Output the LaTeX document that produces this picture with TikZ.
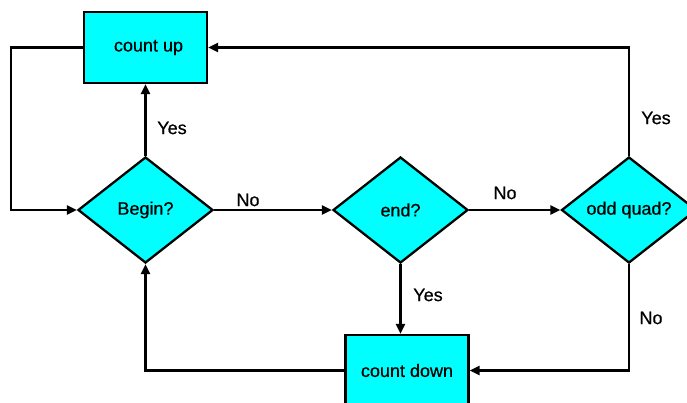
\documentclass[tikz,border=0pt]{standalone}
\usepackage{fontspec}
\setmainfont{Liberation Sans}
\newfontfamily\chartfont{Liberation Sans}[FakeBold=0.5]
\usetikzlibrary{shapes.geometric,arrows.meta}
\definecolor{boxcyan}{RGB}{0,255,255}
\begin{document}
\begin{tikzpicture}[x=1pt,y=-1pt,line width=2.3pt,
  font=\chartfont\fontsize{18}{21}\selectfont,
  boxnode/.style={draw=black,fill=boxcyan,rectangle,minimum width=123pt,minimum height=71pt,inner sep=0pt,line width=2.3pt},
  decision/.style={draw=black,fill=boxcyan,diamond,minimum width=135pt,minimum height=106pt,inner sep=0pt,line width=2.3pt},
  flow/.style={-{Triangle[length=10pt,width=9pt]},line width=2.3pt},
  lbl/.style={inner sep=0pt}]
\useasboundingbox (0,0) rectangle (687,403);

% process boxes and decisions
\node[boxnode] (up) at (145.5,47.5) {\hspace*{6pt}count up};
\node[boxnode] (down) at (407,370.5) {count down};
\node[decision] (begin) at (145.5,210) {Begin?};
\node[decision] (end) at (400.5,210) {end?};
\node[decision] (odd) at (629,210) {odd quad?};

% connectors
\draw[flow] (begin.north) -- (up.south);
\draw[flow] (up.west) -- ++(-72,0) |- (begin.west);
\draw[flow] (begin.east) -- (end.west);
\draw[flow] (end.east) -- (odd.west);
\draw[flow] (end.south) -- (end.south |- down.north);
\draw[flow] (odd.north) |- (up.east);
\draw[flow] (odd.south) |- (down.east);
\draw[flow] (down.west) -| (begin.south);

% branch labels
\node[lbl] (l1) at (172,128) {Yes};
\node[lbl] (l2) at (248,200) {No};
\node[lbl] (l3) at (505,193) {No};
\node[lbl] (l4) at (428,295) {Yes};
\node[lbl] (l5) at (656,118) {Yes};
\node[lbl] (l6) at (651,318) {No};
\end{tikzpicture}
\end{document}
